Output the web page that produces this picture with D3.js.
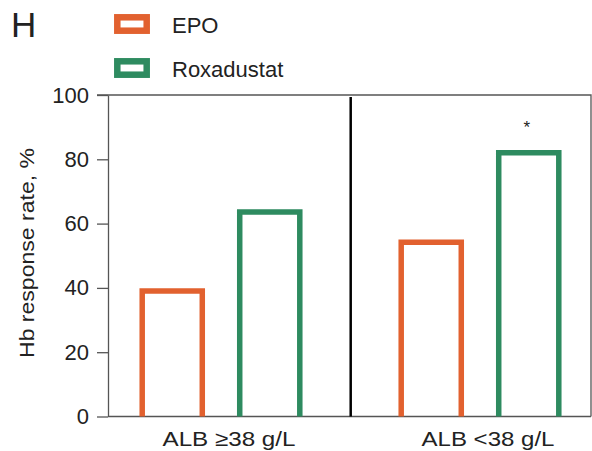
<!DOCTYPE html>
<html>
<head>
<meta charset="utf-8">
<script src="https://cdn.jsdelivr.net/npm/d3@7"></script>
<style>
  body { margin: 0; background: #fff; }
  svg { display: block; font-family: "Liberation Sans", Arial, sans-serif; }
</style>
</head>
<body>
<script>
  "use strict";
  // chart data
  var groups = ["ALB \u226538 g/L", "ALB <38 g/L"];
  var seriesNames = ["EPO", "Roxadustat"];
  var epoValues = [39, 54.2];
  var roxValues = [63.6, 82];
  var yTicks = [0, 20, 40, 60, 80, 100];
  var colors = ["#e2612f", "#2e8b60"];

  var width = 592, height = 451;
  var plotLeft = 108, plotRight = 591, plotTop = 95, plotBottom = 416.5;

  var svg = d3.select("body").append("svg")
    .attr("width", width)
    .attr("height", height);

  var y = d3.scaleLinear().domain([0, 100]).range([plotBottom, plotTop]);
  var x0 = d3.scaleBand().domain(groups).range([91.5, 609.5]);
  var x1 = d3.scaleBand().domain(seriesNames).range([0, x0.bandwidth()])
    .paddingInner(0.384).paddingOuter(0.52);

  var rows = groups.map(function (g, i) {
    return { group: g, values: [epoValues[i], roxValues[i]] };
  });

  // frame: top and right border
  svg.append("path")
    .attr("d", "M" + (plotLeft - 11) + "," + plotTop + "H" + plotRight + "V" + plotBottom)
    .attr("fill", "none").attr("stroke", "#555").attr("stroke-width", 1.3);

  // y axis
  var yAxis = svg.append("g")
    .attr("transform", "translate(" + plotLeft + ",0)")
    .call(d3.axisLeft(y).tickValues(yTicks).tickSize(11).tickPadding(8).tickSizeOuter(0));
  yAxis.select(".domain").attr("stroke", "#555").attr("stroke-width", 1.3);
  yAxis.selectAll(".tick line").attr("stroke", "#555").attr("stroke-width", 1.3);
  yAxis.selectAll(".tick text")
    .attr("font-size", 22).attr("fill", "#222")
    .attr("font-family", "Liberation Sans, Arial, sans-serif");

  // x axis
  var xAxis = svg.append("g")
    .attr("transform", "translate(0," + plotBottom + ")")
    .call(d3.axisBottom(x0).tickSize(0).tickPadding(15));
  xAxis.select(".domain").remove();
  svg.append("line")
    .attr("x1", plotLeft).attr("x2", plotRight).attr("y1", plotBottom).attr("y2", plotBottom)
    .attr("stroke", "#555").attr("stroke-width", 1.3);
  xAxis.selectAll(".tick text")
    .attr("font-size", 21).attr("fill", "#222").attr("dx", 8)
    .attr("textLength", 133).attr("lengthAdjust", "spacingAndGlyphs")
    .attr("font-family", "Liberation Sans, Arial, sans-serif");

  // divider
  svg.append("line")
    .attr("x1", 350.7).attr("x2", 350.7).attr("y1", plotTop + 2).attr("y2", plotBottom)
    .attr("stroke", "#000").attr("stroke-width", 2.5);

  // bars
  var sw = 5.5;
  var g = svg.selectAll(".grp").data(rows).enter().append("g")
    .attr("transform", function (d) { return "translate(" + x0(d.group) + ",0)"; });
  g.selectAll("path").data(function (d) {
    return d.values.map(function (v, i) { return { key: seriesNames[i], value: v, i: i }; });
  }).enter().append("path")
    .attr("d", function (d) {
      var xa = x1(d.key), xb = xa + x1.bandwidth(), yt = y(d.value);
      return "M" + xa + "," + plotBottom + "V" + yt + "H" + xb + "V" + plotBottom;
    })
    .attr("fill", "none")
    .attr("stroke", function (d) { return colors[d.i]; })
    .attr("stroke-width", sw);

  // significance marker
  svg.append("text")
    .attr("x", x0(groups[1]) + x1("Roxadustat") + x1.bandwidth() / 2 - 2)
    .attr("y", y(roxValues[1]) - 20)
    .attr("text-anchor", "middle")
    .attr("font-size", 17).attr("fill", "#222")
    .text("*");

  // panel letter
  svg.append("text")
    .attr("x", 11).attr("y", 36.5)
    .attr("font-size", 35).attr("fill", "#222")
    .text("H");

  // legend
  var leg = svg.selectAll(".leg").data(seriesNames).enter().append("g")
    .attr("transform", function (d, i) { return "translate(0," + (i * 44) + ")"; });
  leg.append("rect")
    .attr("x", 117.3).attr("y", 17.3).attr("width", 29.4).attr("height", 13.4)
    .attr("fill", "#fff")
    .attr("stroke", function (d, i) { return colors[i]; })
    .attr("stroke-width", 6.5);
  leg.append("text")
    .attr("x", 172).attr("y", 32.5)
    .attr("font-size", 22).attr("fill", "#222")
    .text(function (d) { return d; });

  // y title
  svg.append("text")
    .attr("transform", "translate(34,253) rotate(-90)")
    .attr("text-anchor", "middle")
    .attr("font-size", 21).attr("fill", "#222")
    .attr("textLength", 210).attr("lengthAdjust", "spacingAndGlyphs")
    .text("Hb response rate, %");
</script>
</body>
</html>
